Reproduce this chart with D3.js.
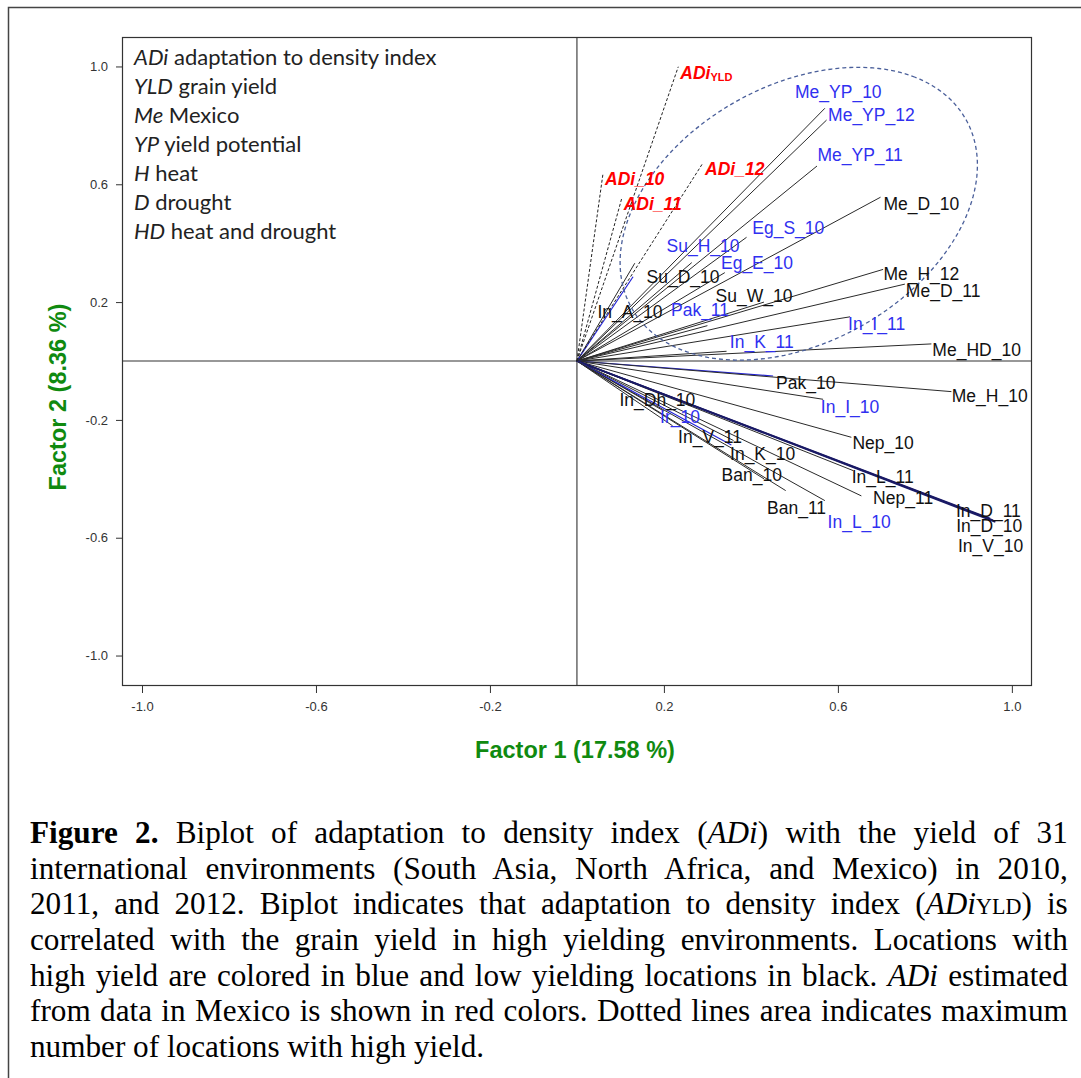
<!DOCTYPE html>
<html>
<head>
<meta charset="utf-8">
<script src="https://d3js.org/d3.v7.min.js"></script>
<style>
  body { margin: 0; background: #fff; }
  #wrap { position: relative; width: 1081px; height: 1078px; overflow: hidden; }
  svg { position: absolute; left: 0; top: 0; }
  #caption { position: absolute; left: 30px; top: 815px; width: 1081px;
             transform: scaleX(0.96); transform-origin: 0 0;
             font-family: "Liberation Serif", "Times New Roman", serif; font-size: 32.5px; color: #000; }
  #caption div { line-height: 35.7px; height: 35.7px; white-space: nowrap; text-align: justify; text-align-last: justify; }
  #caption div.last { text-align-last: left; }
  #caption small { font-size: 23px; }
</style>
</head>
<body>
<div id="wrap">
<svg width="1081" height="1078"></svg>
<div id="caption"></div>
</div>

<script>
// environment vectors (factor 1, factor 2 loadings)
const envNames = ["Me_YP_10","Me_YP_12","Me_YP_11","Me_D_10","Eg_S_10","Su_H_10","Eg_E_10","Su_D_10",
                  "Su_W_10","Me_H_12","Me_D_11","In_A_10","Pak_11","In_I_11","In_K_11","Me_HD_10",
                  "Pak_10","Me_H_10","In_I_10","Nep_10","In_L_11","Nep_11","In_D_11","In_D_10",
                  "In_V_10","Ban_11","In_L_10","Ban_10","In_K_10","In_V_11","Ir_10","In_Dh_10"];
const envX = [0.570, 0.574, 0.552, 0.698, 0.390, 0.264, 0.340, 0.133,
              0.430, 0.704, 0.754, 0.129, 0.300, 0.628, 0.344, 0.815,
              0.451, 0.861, 0.566, 0.631, 0.635, 0.654, 0.957, 0.950,
              0.962, 0.570, 0.480, 0.430, 0.360, 0.220, 0.355, 0.200];
const envY = [0.858, 0.818, 0.662, 0.556, 0.420, 0.334, 0.300, 0.332,
              0.200, 0.311, 0.261, 0.286, 0.120, 0.150, 0.033, 0.058,
              -0.051, -0.104, -0.130, -0.259, -0.372, -0.458, -0.541, -0.535,
              -0.547, -0.474, -0.440, -0.400, -0.270, -0.220, -0.285, -0.170];
// where each environment name was written (data units)
const envLabelX = [0.601, 0.677, 0.651, 0.792, 0.486, 0.290, 0.414, 0.244,
                   0.407, 0.792, 0.842, 0.122, 0.283, 0.689, 0.425, 0.919,
                   0.526, 0.949, 0.628, 0.704, 0.703, 0.750, 0.946, 0.948,
                   0.951, 0.505, 0.649, 0.402, 0.427, 0.306, 0.237, 0.185];
const envLabelY = [0.914, 0.835, 0.700, 0.532, 0.451, 0.390, 0.334, 0.286,
                   0.221, 0.294, 0.239, 0.167, 0.173, 0.126, 0.066, 0.037,
                   -0.074, -0.119, -0.155, -0.277, -0.393, -0.464, -0.508, -0.559,
                   -0.628, -0.498, -0.546, -0.387, -0.316, -0.259, -0.189, -0.132];
const envYield = ["high","high","high","low","high","high","high","low",
                  "low","low","low","low","high","high","high","low",
                  "low","low","high","low","low","low","low","low",
                  "low","low","high","low","low","low","high","low"];
const envLine = ["k","k","k","k","k","k","k","k",
                 "k","k","k","b","k","k","k","k",
                 "b","k","k","k","k","k","n","n",
                 "n","k","k","k","k","k","b","k"];

// adaptation to density index vectors
const adiNames = ["ADi_YLD","ADi_10","ADi_11","ADi_12"];
const adiX = [0.233, 0.060, 0.103, 0.290];
const adiY = [0.999, 0.637, 0.552, 0.673];

// high-yield region (ellipse in data units)
const regionCenter = [0.51, 0.50];
const regionAxes = [0.535, 0.36];
const regionAngle = 60;

const xTicks = [-1.0, -0.6, -0.2, 0.2, 0.6, 1.0];
const yTicks = [-1.0, -0.6, -0.2, 0.2, 0.6, 1.0];
const xTitle = "Factor 1 (17.58 %)";
const yTitle = "Factor 2 (8.36 %)";

const legendKeys = ["ADi","YLD","Me","YP","H","D","HD"];
const legendText = ["adaptation to density index","grain yield","Mexico","yield potential","heat","drought","heat and drought"];

const captionLines = [
  "<b>Figure 2.</b> Biplot of adaptation to density index (<i>ADi</i>) with the yield of 31",
  "international environments (South Asia, North Africa, and Mexico) in 2010,",
  "2011, and 2012. Biplot indicates that adaptation to density index (<i>ADi</i><small>YLD</small>) is",
  "correlated with the grain yield in high yielding environments. Locations with",
  "high yield are colored in blue and low yielding locations in black. <i>ADi</i> estimated",
  "from data in Mexico is shown in red colors. Dotted lines area indicates maximum",
  "number of locations with high yield."
];

const svg = d3.select("svg");

// outer figure frame
svg.append("path").attr("d", "M8.5,1078V7.5H1081")
  .attr("fill", "none").attr("stroke", "#444").attr("stroke-width", 1.5);

const pLeft = 122, pRight = 1031, pTop = 37, pBottom = 685;
const x = d3.scaleLinear().domain([-1.046, 1.044]).range([pLeft, pRight]);
const y = d3.scaleLinear().domain([-1.1, 1.1]).range([pBottom, pTop]);

const fmt = d => d.toFixed(1);

const xAxis = svg.append("g").attr("transform", "translate(0," + pBottom + ")")
  .call(d3.axisBottom(x).tickValues(xTicks).tickFormat(fmt).tickSize(8).tickPadding(9));
const yAxis = svg.append("g").attr("transform", "translate(" + pLeft + ",0)")
  .call(d3.axisLeft(y).tickValues(yTicks).tickFormat(fmt).tickSize(6).tickPadding(8));
[xAxis, yAxis].forEach(a => {
  a.select(".domain").remove();
  a.selectAll("line").attr("stroke", "#333");
  a.selectAll("text").attr("font-family", "Liberation Sans, Arial, sans-serif")
    .attr("font-size", 13).attr("fill", "#333");
});

// plot box and zero lines
svg.append("rect").attr("x", pLeft + 0.5).attr("y", pTop + 0.5)
  .attr("width", pRight - pLeft).attr("height", pBottom - pTop)
  .attr("fill", "none").attr("stroke", "#333").attr("stroke-width", 1.2);
svg.append("line").attr("x1", pLeft).attr("x2", pRight).attr("y1", y(0)).attr("y2", y(0))
  .attr("stroke", "#333").attr("stroke-width", 1.1);
svg.append("line").attr("x1", x(0)).attr("x2", x(0)).attr("y1", pTop).attr("y2", pBottom)
  .attr("stroke", "#333").attr("stroke-width", 1.1);

// axis titles
svg.append("text").attr("x", 575).attr("y", 758)
  .attr("text-anchor", "middle").attr("font-family", "Liberation Sans, Arial, sans-serif")
  .attr("font-weight", "bold").attr("font-size", 23.5).attr("fill", "#108a10").text(xTitle);
svg.append("text").attr("transform", "translate(66," + (y(0) + 36) + ") rotate(-90)")
  .attr("text-anchor", "middle").attr("font-family", "Liberation Sans, Arial, sans-serif")
  .attr("font-weight", "bold").attr("font-size", 23.5).attr("fill", "#108a10").text(yTitle);

// legend of abbreviations
const leg = svg.append("g").attr("font-family", "Lato, Carlito, sans-serif").attr("font-size", 22).attr("fill", "#222");
legendKeys.forEach((k, i) => {
  const t = leg.append("text").attr("x", 134).attr("y", 64.5 + i * 29.1);
  t.append("tspan").attr("font-style", "italic").text(k);
  t.append("tspan").text(" " + legendText[i]);
});

// environment vectors
const lineColor = d3.scaleOrdinal().domain(["k","b","n"]).range(["#2a2a2a","#2424d8","#1a1a66"]);
const lineWidth = d3.scaleOrdinal().domain(["k","b","n"]).range([1, 1.2, 1.6]);
const env = envNames.map((n, i) => ({ name: n, x: envX[i], y: envY[i], lx: envLabelX[i], ly: envLabelY[i],
                                        yld: envYield[i], kind: envLine[i] }));

svg.append("g").selectAll("line").data(env).enter().append("line")
  .attr("x1", x(0)).attr("y1", y(0))
  .attr("x2", d => x(d.x)).attr("y2", d => y(d.y))
  .attr("stroke", d => lineColor(d.kind)).attr("stroke-width", d => lineWidth(d.kind));

// ADi vectors (dashed)
const adi = adiNames.map((n, i) => ({ name: n, x: adiX[i], y: adiY[i] }));
svg.append("g").selectAll("line").data(adi).enter().append("line")
  .attr("x1", x(0)).attr("y1", y(0))
  .attr("x2", d => x(d.x)).attr("y2", d => y(d.y))
  .attr("stroke", "#222").attr("stroke-width", 1).attr("stroke-dasharray", "3,2");

// high yield region
const th = regionAngle * Math.PI / 180;
const pts = d3.range(0, 2 * Math.PI, Math.PI / 90).map(t => {
  const u = regionAxes[0] * Math.cos(t), v = regionAxes[1] * Math.sin(t);
  return [x(regionCenter[0] + u * Math.cos(th) - v * Math.sin(th)),
          y(regionCenter[1] + u * Math.sin(th) + v * Math.cos(th))];
});
svg.append("path").attr("d", d3.line().curve(d3.curveLinearClosed)(pts))
  .attr("fill", "none").attr("stroke", "#4a5f9a").attr("stroke-width", 1.3).attr("stroke-dasharray", "4,3");

// environment names
svg.append("g").attr("font-family", "Liberation Sans, Arial, sans-serif").attr("font-size", 17.5)
  .selectAll("text").data(env).enter().append("text")
  .attr("x", d => x(d.lx)).attr("y", d => y(d.ly) + 6)
  .attr("text-anchor", "middle")
  .attr("fill", d => d.yld === "high" ? "#3030f0" : "#111")
  .text(d => d.name);

// ADi names
const adiText = svg.append("g").attr("font-family", "Liberation Sans, Arial, sans-serif")
  .attr("font-size", 17.5).attr("font-weight", "bold").attr("font-style", "italic").attr("fill", "#ff0000")
  .selectAll("text").data(adi).enter().append("text")
  .attr("x", d => x(d.x) + 2).attr("y", d => y(d.y) + 12);
adiText.append("tspan").text("ADi");
adiText.append("tspan")
  .attr("font-size", d => d.name === "ADi_YLD" ? 11 : null)
  .attr("font-style", d => d.name === "ADi_YLD" ? "normal" : null)
  .attr("dy", d => d.name === "ADi_YLD" ? 2 : null)
  .text(d => d.name === "ADi_YLD" ? "YLD" : d.name.slice(3));

// caption
d3.select("#caption").selectAll("div").data(captionLines).enter().append("div")
  .attr("class", (d, i) => i === captionLines.length - 1 ? "last" : null)
  .html(d => d);
</script>
</body>
</html>
